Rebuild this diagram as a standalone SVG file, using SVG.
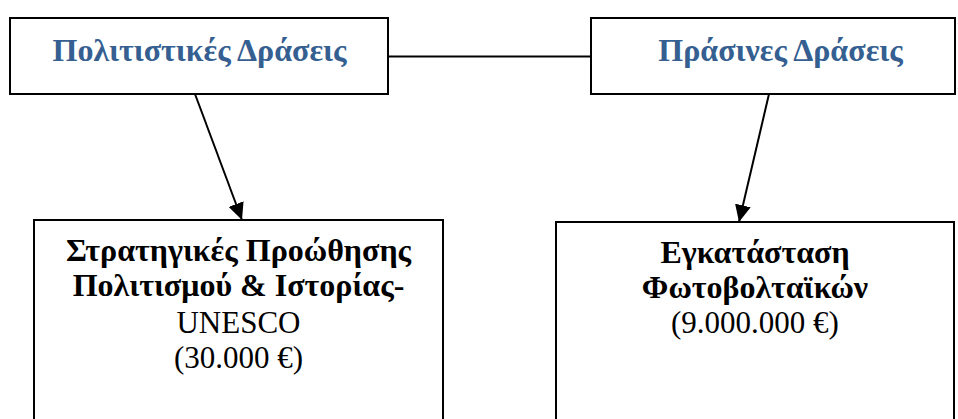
<svg xmlns="http://www.w3.org/2000/svg" width="958" height="419" viewBox="0 0 958 419">
<style>
.box{fill:#fff;stroke:#000;stroke-width:2}
.hdr{font-family:"Liberation Serif","Times New Roman",serif;font-weight:bold;font-size:32px;fill:#365F91;text-anchor:middle}
.b{font-family:"Liberation Serif","Times New Roman",serif;font-weight:bold;font-size:32px;fill:#000;text-anchor:middle}
.r{font-family:"Liberation Serif","Times New Roman",serif;font-size:31px;fill:#000;text-anchor:middle}
.con{stroke:#000;stroke-width:2;fill:none}
</style>
<defs>
<marker id="arr" markerUnits="userSpaceOnUse" markerWidth="18" markerHeight="16" refX="17" refY="8" orient="auto">
<path d="M0,0 L17,8 L0,16 Z" fill="#000"/>
</marker>
</defs>
<rect width="958" height="419" fill="#fff"/>
<g id="connectors">
<line class="con" x1="388" y1="56.5" x2="591" y2="56.5"/>
<line class="con" x1="195" y1="94" x2="242" y2="220" marker-end="url(#arr)"/>
<line class="con" x1="769" y1="94" x2="739" y2="222" marker-end="url(#arr)"/>
</g>
<g id="n1">
<rect class="box" x="10" y="18" width="378" height="76"/>
<text class="hdr" x="199.5" y="61">Πολιτιστικές Δράσεις</text>
</g>
<g id="n2">
<rect class="box" x="591" y="18" width="364" height="76"/>
<text class="hdr" x="780.5" y="61">Πράσινες Δράσεις</text>
</g>
<g id="n3">
<rect class="box" x="34" y="220" width="409" height="220"/>
<text class="b" x="238.5" y="261">Στρατηγικές Προώθησης</text>
<text class="b" x="238.5" y="296">Πολιτισμού &amp; Ιστορίας-</text>
<text class="r" x="238.5" y="333">UNESCO</text>
<text class="r" x="238.5" y="368">(30.000 €)</text>
</g>
<g id="n4">
<rect class="box" x="556" y="222" width="398" height="220"/>
<text class="b" x="755" y="263">Εγκατάσταση</text>
<text class="b" x="755" y="298">Φωτοβολταϊκών</text>
<text class="r" x="755" y="333">(9.000.000 €)</text>
</g>
</svg>
